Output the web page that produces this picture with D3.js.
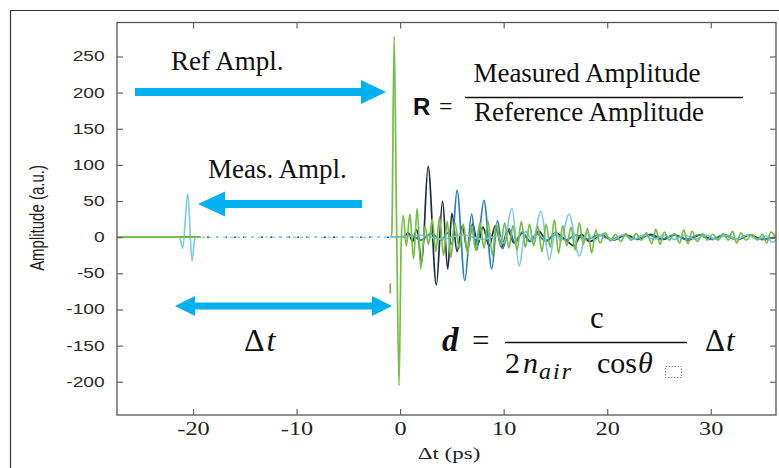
<!DOCTYPE html>
<html>
<head>
<meta charset="utf-8">
<script src="https://cdn.jsdelivr.net/npm/d3@7"></script>
<style>
  body { margin: 0; background: #fff; }
</style>
</head>
<body>
<svg id="chart" width="779" height="468"></svg>
<script>
// axis ranges and ticks
var tRange = [-27.34, 36.3];
var ampRange = [-246, 297];
var xTickValues = [-20, -10, 0, 10, 20, 30];
var yTickValues = [-200, -150, -100, -50, 0, 50, 100, 150, 200, 250];

// reference pulse (green) : [delay ps, amplitude]
var greenWave = [
  [-27.34, 0], [-1.0, 0], [-0.8, 6], [-0.58, 278], [-0.35, 30], [-0.1, -205], [0.1, -10],
  [0.3, 30], [0.6, -12], [0.95, 32], [1.3, -30], [1.65, 40], [2.0, -44], [2.4, 15],
  [2.75, -10], [3.1, 25], [3.45, -20], [3.8, 28], [4.2, -25], [4.55, 22], [4.9, -28],
  [5.3, 20], [5.7, -15], [6.1, 18], [6.5, -22], [6.9, 15], [7.3, -18], [7.7, 20],
  [8.1, -15], [8.5, 22], [8.9, -25], [9.3, 18], [9.7, -12], [10.1, 20], [10.5, -15],
  [10.9, 16], [11.3, -18], [11.7, 22], [12.1, -14], [12.5, 18], [12.9, -12], [13.3, 15],
  [13.7, -20], [14.1, 18], [14.5, -14], [14.9, 24], [15.3, -22], [15.7, 16], [16.1, -12],
  [16.5, 14], [16.9, -18], [17.3, 20], [17.7, -10], [18.1, 12], [18.5, -22], [18.9, 10],
  [19.3, -8], [19.8, 6], [20.3, -5], [20.8, 4], [21.3, -6], [21.8, 5], [22.3, -4],
  [22.8, 5], [23.3, -4], [23.8, 6], [24.3, -9], [24.7, 11], [25.1, -10], [25.5, 7],
  [26.0, -4], [26.5, 5], [27.0, -8], [27.4, 10], [27.8, -9], [28.2, 8], [28.7, -6],
  [29.2, 5], [29.7, -4], [30.2, 4], [30.7, -4], [31.2, 5], [31.7, -4], [32.1, 8],
  [32.5, -8], [32.9, 6], [33.4, -4], [34.0, 4], [34.5, -4], [35.0, 4], [35.4, -8],
  [35.8, 7], [36.3, 0]
];
var greenGlitch = [[-0.95, -64], [-0.95, -78]];

// measured pulses
var navyWave = [
  [-27.34, 0], [0.3, 0], [0.8, 6], [1.2, -6], [1.6, 10], [2.1, -34], [2.7, 98], [3.5, -66],
  [4.1, 50], [4.6, -44], [5.0, 33], [5.5, -20], [6.0, 15], [6.5, -18], [7.0, 18],
  [7.5, -10], [8.0, 14], [8.6, -12], [9.2, 16], [9.8, -14], [10.4, 10], [11.0, -8],
  [11.8, 6], [12.6, -6], [13.4, 8], [14.2, -5], [15.0, 6], [16.0, -4], [16.8, -12],
  [17.5, 4], [18.3, -6], [19.5, 3], [20.6, -4], [21.8, 3], [23.0, -3], [24.2, 4],
  [25.4, -3], [26.6, 3], [27.8, -4], [29.0, 3], [30.2, -3], [31.4, 3], [32.6, -3],
  [33.8, 3], [35.0, -3], [36.3, 0]
];
var midBlueWave = [
  [-27.34, 0], [0.0, 0], [1.0, 3], [2.0, -4], [3.0, 5], [4.0, -4], [4.6, 6], [5.0, -10],
  [5.5, 65], [6.25, -60], [6.9, 32], [7.4, -18], [8.1, 51], [8.85, -44], [9.4, 23],
  [9.9, -16], [10.5, 12], [11.1, -8], [11.8, 7], [12.5, -6], [13.2, 5], [14.0, -5],
  [15.0, 4], [16.0, -4], [17.0, 3], [18.0, -3], [19.2, 3], [20.4, -3], [21.6, 3],
  [22.8, -3], [24.0, 3], [25.2, -3], [26.4, 3], [27.6, -3], [28.8, 3], [30.0, -3],
  [31.2, 3], [32.4, -3], [33.6, 3], [34.8, -3], [36.3, 0]
];
var lightBlueWave = [
  [-27.34, 0], [-21.3, 0], [-21.0, -15], [-20.5, 60], [-20.1, -33], [-19.8, 0],
  [0.0, 0], [2.0, 3], [4.0, -3], [6.0, 3], [8.0, -3], [9.5, 2], [10.0, -8], [10.8, 40],
  [11.5, -40], [12.1, 8], [12.8, -6], [13.6, 36], [14.4, -31], [15.0, 8], [15.5, -5],
  [16.3, 32], [17.3, -26], [18.0, 6], [18.8, -4], [19.6, 5], [20.5, -4], [21.5, 3],
  [22.5, -3], [23.5, 3], [24.5, -3], [25.5, 3], [26.5, -3], [27.5, 3], [28.5, -3],
  [29.5, 3], [30.5, -3], [31.5, 3], [32.5, -3], [33.5, 3], [34.5, -3], [35.4, 2],
  [35.9, -7], [36.3, -4]
];
// delay interval where the sampled traces show up as dotted
var dottedRange = [-19.3, -0.9];

(function () {
  var svg = d3.select("#chart");

  var plotLeft = 117, plotRight = 776, plotTop = 22.5, plotBottom = 415;

  var x = d3.scaleLinear().domain(tRange).range([plotLeft, plotRight]);
  var y = d3.scaleLinear().domain(ampRange).range([plotBottom, plotTop]);

  // outer frame of the picture
  svg.append("path")
    .attr("d", "M10.5,468 L10.5,10.5 L779,10.5")
    .attr("fill", "none")
    .attr("stroke", "#333")
    .attr("stroke-width", 1.2);

  var defs = svg.append("defs");
  defs.append("clipPath").attr("id", "solidClip")
    .selectAll("rect")
    .data([[tRange[0], dottedRange[0]], [dottedRange[1], tRange[1]]])
    .enter().append("rect")
    .attr("x", function (d) { return x(d[0]); })
    .attr("width", function (d) { return x(d[1]) - x(d[0]); })
    .attr("y", plotTop)
    .attr("height", plotBottom - plotTop);
  defs.append("clipPath").attr("id", "dotClip")
    .append("rect")
    .attr("x", x(dottedRange[0]))
    .attr("width", x(dottedRange[1]) - x(dottedRange[0]))
    .attr("y", plotTop)
    .attr("height", plotBottom - plotTop);

  var line = d3.line()
    .x(function (d) { return x(d[0]); })
    .y(function (d) { return y(d[1]); })
    .curve(d3.curveMonotoneX);

  var plot = svg.append("g");

  // dotted stretch of the measured traces
  var dotted = plot.append("g").attr("clip-path", "url(#dotClip)");
  dotted.append("path").datum(navyWave)
    .attr("d", line).attr("fill", "none")
    .attr("stroke", "#2b5d86").attr("stroke-width", 1.4)
    .attr("stroke-dasharray", "2,7");
  dotted.append("path").datum(lightBlueWave)
    .attr("d", line).attr("fill", "none")
    .attr("stroke", "#8fd0f5").attr("stroke-width", 1.4)
    .attr("stroke-dasharray", "3,4")
    .attr("stroke-dashoffset", 4);

  var solid = plot.append("g").attr("clip-path", "url(#solidClip)");
  var series = [
    { data: navyWave, color: "#1c2d3f" },
    { data: midBlueWave, color: "#2a7fc0" },
    { data: lightBlueWave, color: "#7fc8f3" },
    { data: greenWave, color: "#76bf45" }
  ];
  solid.selectAll("path.wave")
    .data(series)
    .enter().append("path")
    .attr("class", "wave")
    .attr("d", function (d) { return line(d.data); })
    .attr("fill", "none")
    .attr("stroke", function (d) { return d.color; })
    .attr("stroke-width", 1.7);

  plot.append("path").datum(greenGlitch)
    .attr("d", d3.line().x(function (d) { return x(d[0]); }).y(function (d) { return y(d[1]); }))
    .attr("stroke", "#76bf45").attr("stroke-width", 1.8);

  // frame and mirrored ticks
  svg.append("rect")
    .attr("x", plotLeft).attr("y", plotTop)
    .attr("width", plotRight - plotLeft).attr("height", plotBottom - plotTop)
    .attr("fill", "none").attr("stroke", "#555").attr("stroke-width", 1.3);

  function styleTicks(g) {
    g.select(".domain").remove();
    g.selectAll(".tick line").attr("stroke", "#666").attr("stroke-width", 1.2);
  }
  var plain = function (d) { return String(d); };

  var gx = svg.append("g")
    .attr("transform", "translate(0," + plotBottom + ")")
    .call(d3.axisBottom(x).tickValues(xTickValues).tickFormat(plain)
      .tickSizeInner(-6).tickSizeOuter(0).tickPadding(0))
    .call(styleTicks);
  gx.selectAll(".tick text")
    .attr("y", 20).attr("dy", 0)
    .attr("transform", "scale(1.35,1)")
    .attr("font-family", "'Liberation Serif', 'Times New Roman', serif")
    .attr("font-size", 18)
    .attr("fill", "#222");

  svg.append("g")
    .attr("transform", "translate(0," + plotTop + ")")
    .call(d3.axisTop(x).tickValues(xTickValues).tickSizeInner(-6).tickSizeOuter(0).tickFormat(""))
    .call(styleTicks);

  var gy = svg.append("g")
    .attr("transform", "translate(" + plotLeft + ",0)")
    .call(d3.axisLeft(y).tickValues(yTickValues).tickFormat(plain)
      .tickSizeInner(-6).tickSizeOuter(0).tickPadding(9))
    .call(styleTicks);
  gy.selectAll(".tick text")
    .attr("transform", "scale(1.37,1)")
    .attr("font-family", "'Liberation Sans', Arial, sans-serif")
    .attr("font-size", 14)
    .attr("fill", "#2a2a2a");

  svg.append("g")
    .attr("transform", "translate(" + plotRight + ",0)")
    .call(d3.axisRight(y).tickValues(yTickValues).tickSizeInner(-6).tickSizeOuter(0).tickFormat(""))
    .call(styleTicks);

  // axis titles
  svg.append("text")
    .attr("transform", "translate(449,459) scale(1.35,1)")
    .attr("text-anchor", "middle")
    .attr("font-family", "'Liberation Serif', 'Times New Roman', serif")
    .attr("font-size", 17)
    .attr("fill", "#222")
    .text("\u0394t (ps)");

  svg.append("text")
    .attr("transform", "translate(44,218) rotate(-90) scale(1,1.35)")
    .attr("text-anchor", "middle")
    .attr("font-family", "'Liberation Sans', Arial, sans-serif")
    .attr("font-size", 15)
    .attr("fill", "#222")
    .text("Amplitude (a.u.)");

  // annotation arrows
  var arrowBlue = "#00b0f0";
  function arrow(x0, x1, yy, w, headL, headW, both) {
    var dir = x1 > x0 ? 1 : -1;
    var p = d3.path();
    var s0 = both ? x0 + dir * headL : x0;
    var s1 = x1 - dir * headL;
    p.moveTo(s0, yy - w / 2);
    p.lineTo(s1, yy - w / 2);
    p.lineTo(s1, yy - headW);
    p.lineTo(x1, yy);
    p.lineTo(s1, yy + headW);
    p.lineTo(s1, yy + w / 2);
    p.lineTo(s0, yy + w / 2);
    if (both) {
      p.lineTo(s0, yy + headW);
      p.lineTo(x0, yy);
      p.lineTo(s0, yy - headW);
    }
    p.closePath();
    svg.append("path").attr("d", p.toString()).attr("fill", arrowBlue);
  }
  arrow(135, 386, 92, 8, 25, 12, false);
  arrow(362, 198, 204, 8, 27, 12.5, false);
  arrow(175, 392, 306, 7, 20, 10, true);

  var serif = "'Liberation Serif', 'Times New Roman', serif";

  svg.append("text").attr("x", 171).attr("y", 70)
    .attr("font-family", serif).attr("font-size", 27).attr("fill", "#111")
    .text("Ref Ampl.");
  svg.append("text").attr("x", 208).attr("y", 178)
    .attr("font-family", serif).attr("font-size", 27).attr("fill", "#111")
    .text("Meas. Ampl.");
  svg.append("text").attr("x", 244).attr("y", 351)
    .attr("font-family", serif).attr("font-size", 32).attr("fill", "#111")
    .call(function (t) {
      t.append("tspan").text("\u0394");
      t.append("tspan").attr("font-style", "italic").attr("dx", 2).text("t");
    });

  // R = Measured / Reference
  svg.append("text").attr("x", 413).attr("y", 115)
    .attr("font-family", "'Liberation Sans', Arial, sans-serif")
    .attr("font-weight", "bold").attr("font-size", 24).attr("fill", "#111")
    .text("R");
  svg.append("text").attr("x", 439).attr("y", 114)
    .attr("font-family", serif).attr("font-size", 24).attr("fill", "#111")
    .text("=");
  svg.append("line").attr("x1", 465).attr("x2", 743).attr("y1", 97.5).attr("y2", 97.5)
    .attr("stroke", "#111").attr("stroke-width", 1.5);
  svg.append("text").attr("x", 587).attr("y", 82).attr("text-anchor", "middle")
    .attr("font-family", serif).attr("font-size", 27).attr("fill", "#111")
    .text("Measured Amplitude");
  svg.append("text").attr("x", 589).attr("y", 121).attr("text-anchor", "middle")
    .attr("font-family", serif).attr("font-size", 27).attr("fill", "#111")
    .text("Reference Amplitude");

  // d = c / (2 n_air cos theta) dt
  svg.append("text").attr("x", 442).attr("y", 351)
    .attr("font-family", serif).attr("font-size", 33)
    .attr("font-weight", "bold").attr("font-style", "italic").attr("fill", "#111")
    .text("d");
  svg.append("text").attr("x", 472).attr("y", 351)
    .attr("font-family", serif).attr("font-size", 31).attr("fill", "#111")
    .text("=");
  svg.append("line").attr("x1", 505).attr("x2", 687).attr("y1", 342.5).attr("y2", 342.5)
    .attr("stroke", "#111").attr("stroke-width", 1.5);
  svg.append("text").attr("x", 597).attr("y", 328).attr("text-anchor", "middle")
    .attr("font-family", serif).attr("font-size", 31).attr("fill", "#111")
    .text("c");
  var den = svg.append("text").attr("y", 373)
    .attr("font-family", serif).attr("font-size", 30).attr("fill", "#111");
  den.append("tspan").attr("x", 505).text("2");
  den.append("tspan").attr("x", 523).attr("font-style", "italic").text("n");
  den.append("tspan").attr("x", 539).attr("dy", 6).attr("font-size", 24)
    .attr("font-style", "italic").attr("letter-spacing", 2).text("air");
  den.append("tspan").attr("x", 597).attr("dy", -6).text("cos");
  den.append("tspan").attr("x", 638).attr("font-style", "italic").text("\u03b8");
  svg.append("rect").attr("x", 665.5).attr("y", 366.5).attr("width", 16).attr("height", 11)
    .attr("fill", "none").attr("stroke", "#888").attr("stroke-width", 1)
    .attr("stroke-dasharray", "1.5,1.5");
  svg.append("text").attr("x", 705).attr("y", 351)
    .attr("font-family", serif).attr("font-size", 31).attr("fill", "#111")
    .call(function (t) {
      t.append("tspan").text("\u0394");
      t.append("tspan").attr("font-style", "italic").attr("dx", 1).text("t");
    });
})();
</script>
</body>
</html>
